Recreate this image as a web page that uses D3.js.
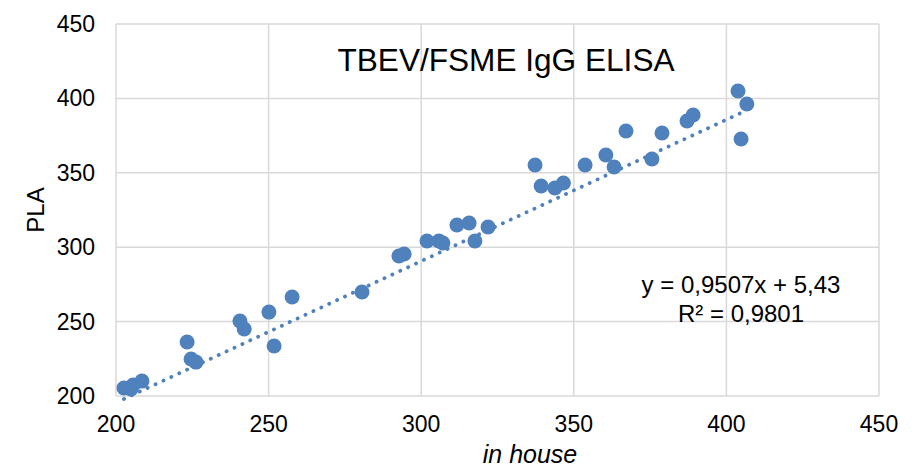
<html>
<head>
<title>TBEV/FSME IgG ELISA</title>
<style>
  body { margin: 0; background: #fff; }
  text { font-family: "Liberation Sans", Arial, sans-serif; fill: #000; }
</style>
</head>
<body>
<script src="https://d3js.org/d3.v7.min.js"></script>
<script>
var w = 919;
var h = 471;

// in house (x) vs PLA (y)
var inHouse = [202.6, 204.9, 205.6, 208.5, 223.3, 224.6, 226.2, 240.6, 242.0, 250.1,
               251.8, 257.7, 280.6, 292.7, 294.4, 301.9, 305.8, 307.1, 311.7, 315.7,
               317.6, 321.9, 337.3, 339.3, 343.8, 346.6, 353.7, 360.5, 363.2, 367.1,
               375.6, 378.9, 387.1, 389.1, 403.8, 406.7, 404.8];
var pla =     [205.4, 204.7, 207.4, 210.0, 236.3, 224.9, 222.8, 250.4, 245.0, 256.4,
               233.6, 266.5, 269.9, 294.1, 295.4, 304.2, 304.2, 302.8, 314.9, 316.3,
               304.2, 313.6, 355.2, 341.1, 339.8, 343.1, 355.2, 362.0, 353.9, 378.1,
               359.3, 376.7, 384.8, 388.8, 405.0, 396.2, 372.7];
var xTicks = [200, 250, 300, 350, 400, 450];
var yTicks = [200, 250, 300, 350, 400, 450];
var slope = 0.9507, intercept = 5.43;

var svg = d3.select('body').append('svg')
    .attr('width', w).attr('height', h);

var x = d3.scaleLinear().domain([200, 450]).range([116, 879]);
var y = d3.scaleLinear().domain([200, 450]).range([396, 24]);

// gridlines
svg.selectAll('.vgrid').data(xTicks).enter().append('line')
    .attr('x1', d => x(d)).attr('x2', d => x(d))
    .attr('y1', y(200)).attr('y2', y(450))
    .attr('stroke', '#d9d9d9').attr('stroke-width', 1.5);
svg.selectAll('.hgrid').data(yTicks).enter().append('line')
    .attr('x1', x(200)).attr('x2', x(450))
    .attr('y1', d => y(d)).attr('y2', d => y(d))
    .attr('stroke', '#d9d9d9').attr('stroke-width', 1.5);

// tick labels
svg.selectAll('.xlab').data(xTicks).enter().append('text')
    .attr('x', d => x(d)).attr('y', 432)
    .attr('text-anchor', 'middle').style('font-size', '23px')
    .text(d => d);
svg.selectAll('.ylab').data(yTicks).enter().append('text')
    .attr('x', 95).attr('y', d => y(d) + 8)
    .attr('text-anchor', 'end').style('font-size', '23px')
    .text(d => d);

// trend line
var x0 = d3.min(inHouse), x1 = d3.max(inHouse);
svg.append('line')
    .attr('x1', x(x0)).attr('y1', y(slope * x0 + intercept))
    .attr('x2', x(x1)).attr('y2', y(slope * x1 + intercept))
    .attr('stroke', '#4f81bd').attr('stroke-width', 3.8)
    .attr('stroke-linecap', 'round')
    .attr('stroke-dasharray', '0.1 8.6');

// points
svg.selectAll('.pt').data(inHouse).enter().append('circle')
    .attr('cx', d => x(d))
    .attr('cy', (d, i) => y(pla[i]))
    .attr('r', 7.5)
    .attr('fill', '#4f81bd');

// title
svg.append('text').attr('x', 506).attr('y', 71)
    .attr('text-anchor', 'middle').style('font-size', '31.6px')
    .text('TBEV/FSME IgG ELISA');

// equation
svg.append('text').attr('x', 741).attr('y', 293)
    .attr('text-anchor', 'middle').style('font-size', '24px')
    .text('y = 0,9507x + 5,43');
svg.append('text').attr('x', 741).attr('y', 322)
    .attr('text-anchor', 'middle').style('font-size', '24px')
    .text('R² = 0,9801');

// axis titles
svg.append('text').attr('x', 530).attr('y', 463)
    .attr('text-anchor', 'middle').style('font-size', '25px')
    .style('font-style', 'italic')
    .text('in house');
svg.append('text')
    .attr('transform', 'translate(44,210) rotate(-90)')
    .attr('text-anchor', 'middle').style('font-size', '24px')
    .text('PLA');
</script>
</body>
</html>
